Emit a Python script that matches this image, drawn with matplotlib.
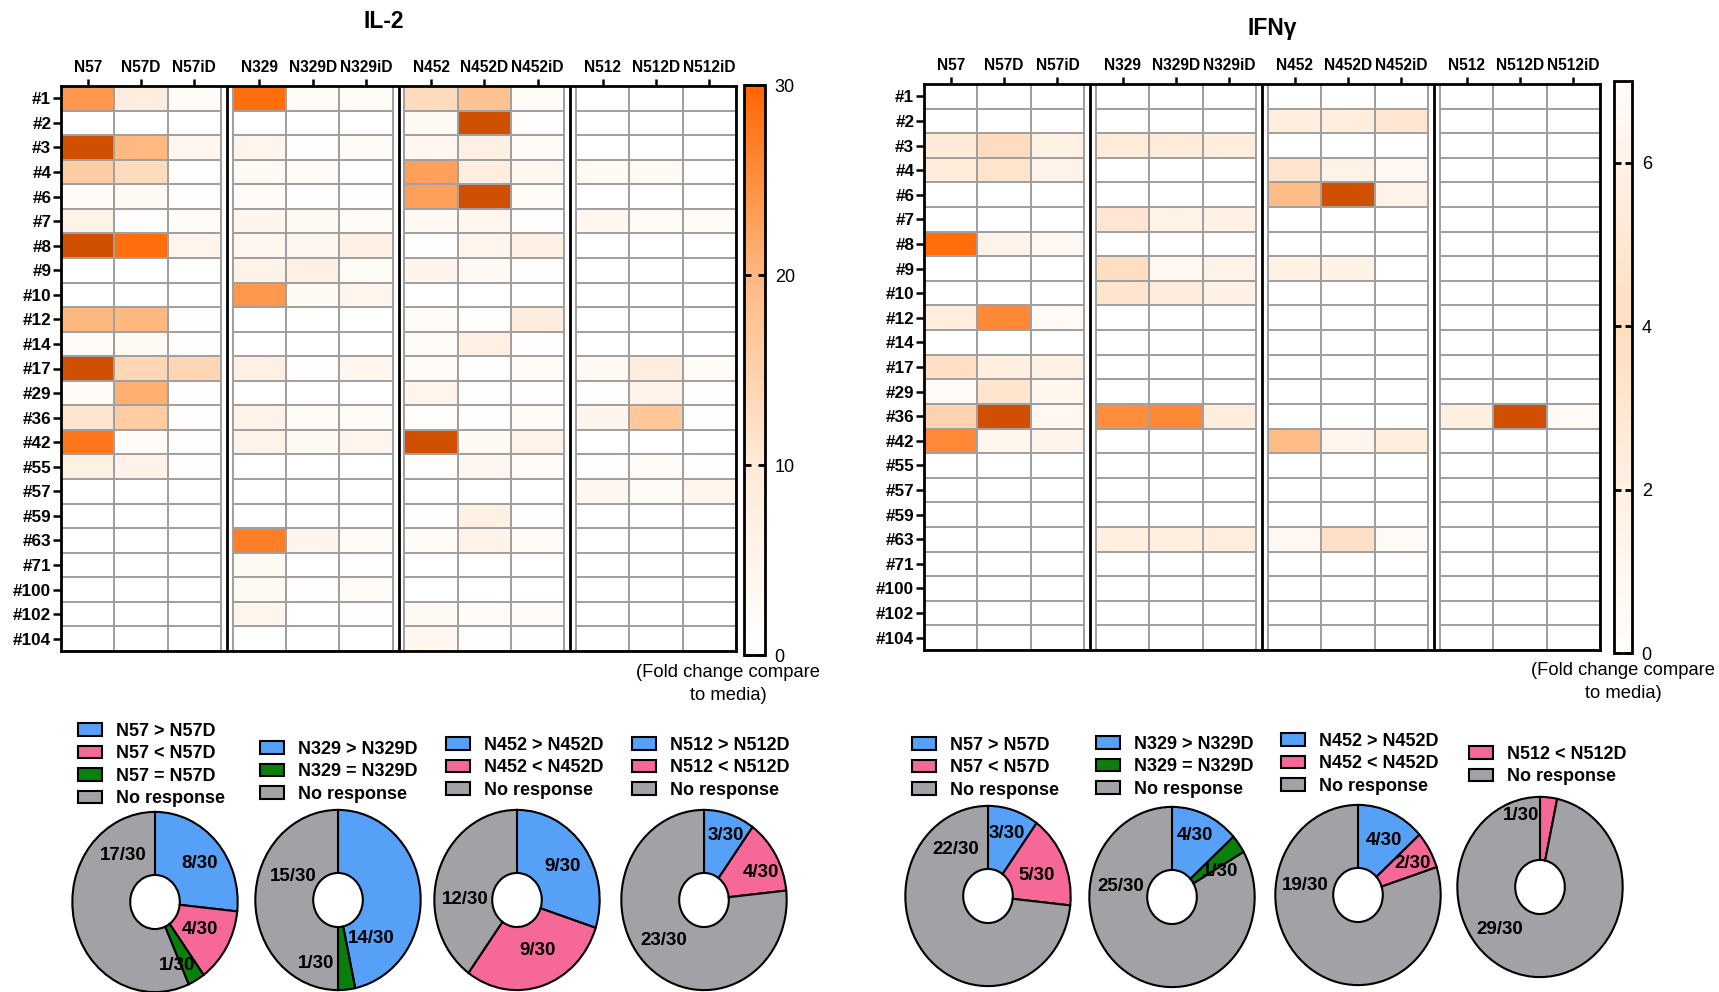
import numpy as np
import matplotlib
matplotlib.use('Agg')
import matplotlib.pyplot as plt
from matplotlib.colors import LinearSegmentedColormap, Normalize
from matplotlib.cm import ScalarMappable

plt.rcParams['font.family'] = ['Liberation Sans', 'DejaVu Sans']

# heatmap data (fold change compared to media)
rows = ['#1', '#2', '#3', '#4', '#6', '#7', '#8', '#9', '#10', '#12', '#14', '#17',
        '#29', '#36', '#42', '#55', '#57', '#59', '#63', '#71', '#100', '#102', '#104']
cols = ['N57', 'N57D', 'N57iD', 'N329', 'N329D', 'N329iD',
        'N452', 'N452D', 'N452iD', 'N512', 'N512D', 'N512iD']

il2 = [
    [24, 8, 2, 29, 2, 2, 13, 18, 2, 0, 0, 0],
    [0, 0, 0, 0, 0, 0, 3, 35, 1, 0, 0, 0],
    [35, 20, 4, 5, 1, 2, 4, 7, 2, 0, 0, 0],
    [16, 13, 1, 3, 2, 1, 23, 8, 4, 3, 3, 1],
    [2, 3, 1, 2, 1, 1, 23, 35, 2, 0, 0, 0],
    [6, 1, 2, 5, 3, 2, 3, 4, 1, 4, 2, 2],
    [35, 29, 5, 4, 4, 7, 0.5, 5, 7, 0, 0, 0],
    [0, 0, 0, 6, 7, 2, 5, 3, 1, 0, 0, 0],
    [0, 0, 0, 24, 3, 5, 0, 0, 0, 0, 0, 0],
    [20, 20, 1, 0, 0, 0, 2, 0.5, 8, 0, 0, 0],
    [2, 3, 1, 0, 0, 0, 2, 7, 1, 0, 0, 0],
    [35, 14, 14, 7, 1, 4, 2, 1, 2, 3, 8, 2],
    [2, 21, 1, 0, 0, 0, 5, 1, 0.5, 1, 6, 1],
    [11, 16, 1, 6, 2, 2, 1, 1, 2, 5, 17, 1],
    [28, 2, 1, 6, 3, 5, 35, 3, 6, 0, 0, 0],
    [7, 6, 1, 0, 0, 0, 1, 4, 2, 1, 2, 1],
    [0, 0, 0, 0, 0, 0, 0, 0, 0, 4, 2, 5],
    [0, 0, 0, 0, 0, 0, 1, 7, 1, 0, 0, 0],
    [0, 0, 0, 27, 5, 2, 2, 6, 2, 0, 0, 0],
    [0, 0, 0, 3, 0, 1, 0, 0, 0, 0, 0, 0],
    [0, 0, 0, 3, 1, 2, 0, 0, 0, 0, 0, 0],
    [0, 0, 0, 5, 0, 0.5, 3, 2, 2, 0, 0, 0],
    [0, 0, 0, 0, 0, 0, 4, 1, 1, 0, 0, 0],
]

ifng = [
    [0, 0, 0, 0, 0, 0, 0, 0, 0, 0, 0, 0],
    [0, 0, 0, 0, 0, 0, 2.0, 2.0, 2.5, 0, 0, 0],
    [2.3, 3.0, 1.6, 2.2, 2.2, 2.0, 0, 0, 0, 0, 0, 0],
    [2.2, 2.6, 1.4, 0, 0, 0, 2.6, 1.5, 0.8, 0, 0, 0],
    [0, 0, 0, 0, 0, 0, 4.5, 8, 1.3, 0, 0, 0],
    [0, 0, 0, 2.5, 1.5, 1.6, 0, 0, 0, 0, 0, 0],
    [6.8, 1.4, 0.8, 0, 0, 0, 0, 0, 0, 0, 0, 0],
    [0, 0, 0, 2.9, 0.8, 1.4, 1.6, 1.5, 0, 0, 0, 0],
    [0, 0, 0, 2.6, 2.2, 1.6, 0, 0, 0, 0, 0, 0],
    [2.0, 6.0, 0.6, 0, 0, 0, 0, 0, 0, 0, 0, 0],
    [0, 0, 0, 0, 0, 0, 0, 0, 0, 0, 0, 0],
    [2.8, 1.8, 1.6, 0, 0, 0, 0, 0, 0, 0, 0, 0],
    [0.6, 2.6, 1.0, 0, 0, 0, 0, 0, 0, 0, 0, 0],
    [3.4, 8, 0.9, 5.9, 6.0, 2.0, 0, 0, 0, 1.8, 8, 0.6],
    [6.0, 1.0, 1.2, 0, 0, 0, 4.5, 1.1, 2.0, 0, 0, 0],
    [0, 0, 0, 0, 0, 0, 0, 0, 0, 0, 0, 0],
    [0, 0, 0, 0, 0, 0, 0, 0, 0, 0, 0, 0],
    [0, 0, 0, 0, 0, 0, 0, 0, 0, 0, 0, 0],
    [0, 0, 0, 1.8, 1.8, 2.0, 0.8, 2.8, 0.6, 0, 0, 0],
    [0, 0, 0, 0, 0, 0, 0, 0, 0, 0, 0, 0],
    [0, 0, 0, 0, 0, 0, 0, 0, 0, 0, 0, 0],
    [0, 0, 0, 0, 0, 0, 0, 0, 0, 0, 0, 0],
    [0, 0, 0, 0, 0, 0, 0, 0, 0, 0, 0, 0],
]

# pie data (number of donors out of 30)
il2_pie_counts = [[8, 4, 1, 17], [14, 1, 15], [9, 9, 12], [3, 4, 23]]
il2_pie_labels = [['8/30', '4/30', '1/30', '17/30'], ['14/30', '1/30', '15/30'],
                  ['9/30', '9/30', '12/30'], ['3/30', '4/30', '23/30']]
il2_pie_cats = [['N57 > N57D', 'N57 < N57D', 'N57 = N57D', 'No response'],
                ['N329 > N329D', 'N329 = N329D', 'No response'],
                ['N452 > N452D', 'N452 < N452D', 'No response'],
                ['N512 > N512D', 'N512 < N512D', 'No response']]

ifn_pie_counts = [[3, 5, 22], [4, 1, 25], [4, 2, 24], [1, 29]]
ifn_pie_labels = [['3/30', '5/30', '22/30'], ['4/30', '1/30', '25/30'],
                  ['4/30', '2/30', '19/30'], ['1/30', '29/30']]
ifn_pie_cats = [['N57 > N57D', 'N57 < N57D', 'No response'],
                ['N329 > N329D', 'N329 = N329D', 'No response'],
                ['N452 > N452D', 'N452 < N452D', 'No response'],
                ['N512 < N512D', 'No response']]

W, H = 1719, 992
fig = plt.figure(figsize=(W / 100, H / 100), dpi=100)


def box(l, t, r, b):
    return [l / W, 1 - b / H, (r - l) / W, (b - t) / H]


cmap = LinearSegmentedColormap.from_list(
    'fold', [(0, '#FFFFFF'), (1 / 3, '#FFEAD8'), (2 / 3, '#FFB880'), (1, '#FF6600')])
cmap.set_over('#D04F00')
GAP = 0.22


def heatmap(ax, values, vmax):
    vals = np.array(values, float)
    y = np.arange(len(rows) + 1)
    for g in range(4):
        x = g * (3 + GAP) + np.arange(4)
        m = ax.pcolormesh(x, y, vals[:, 3 * g:3 * g + 3], cmap=cmap, vmin=0, vmax=vmax,
                          edgecolors='#A0A0A0', linewidth=1.2)
    for g in range(1, 4):
        ax.axvline(g * (3 + GAP) - GAP / 2, color='black', lw=2)
    ax.set_xlim(0, 12 + 3 * GAP)
    ax.set_ylim(len(rows), 0)
    ax.set_xticks([g * (3 + GAP) + j + 0.5 for g in range(4) for j in range(3)])
    ax.set_xticklabels(cols, fontweight='bold', fontsize=11.2)
    ax.xaxis.tick_top()
    ax.set_yticks(np.arange(len(rows)) + 0.5)
    ax.set_yticklabels(rows, fontweight='bold', fontsize=12.3)
    ax.tick_params(axis='x', length=5, width=1.8, pad=3)
    ax.tick_params(axis='y', length=6, width=1.8, pad=1)
    for s in ax.spines.values():
        s.set_linewidth(2)
    return m


ax1 = fig.add_axes(box(61, 86, 736, 651))
m1 = heatmap(ax1, il2, 30)
cax1 = fig.add_axes(box(744, 85, 765, 655))
cb1 = fig.colorbar(m1, cax=cax1, ticks=[0, 10, 20, 30])

ax2 = fig.add_axes(box(924, 84, 1600, 650))
heatmap(ax2, ifng, 7)
cax2 = fig.add_axes(box(1614, 81, 1632, 653))
bar_cmap = LinearSegmentedColormap.from_list(
    'ifn_bar', [(0, '#FFFDFB'), (2 / 7, '#FFF0E2'), (4 / 7, '#FFDDBF'), (6 / 7, '#FFF1E5'), (1, '#FFFDFB')])
cb2 = fig.colorbar(ScalarMappable(norm=Normalize(0, 7), cmap=bar_cmap), cax=cax2, ticks=[0, 2, 4, 6])

for cb in (cb1, cb2):
    cb.outline.set_linewidth(2)
    cb.ax.tick_params(direction='in', length=5, width=2, left=True, right=True,
                      labelsize=13, pad=7)

fig.text(384 / W, 1 - 22 / H, 'IL-2', ha='center', va='center', fontsize=16.5, fontweight='bold')
fig.text(1272 / W, 1 - 28 / H, 'IFNγ', ha='center', va='center', fontsize=16.5, fontweight='bold')
fig.text(728 / W, 1 - 664 / H, '(Fold change compare\nto media)', ha='center', va='top',
         multialignment='center', fontsize=13.2, linespacing=1.45)
fig.text(1623 / W, 1 - 662 / H, '(Fold change compare\nto media)', ha='center', va='top',
         multialignment='center', fontsize=13.2, linespacing=1.45)


def cat_color(c):
    if '>' in c:
        return '#56A0F7'
    if '<' in c:
        return '#F56897'
    if '=' in c:
        return '#0B7F0B'
    return '#A2A2A6'


RX, RY = 83.5, 91


def donut(cx, cy, counts, labels, cats, lpos, leg_xy):
    ax = fig.add_axes(box(cx - RX, cy - RY, cx + RX, cy + RY))
    wedges, _ = ax.pie(counts, colors=[cat_color(c) for c in cats], startangle=90,
                       counterclock=False, radius=1,
                       wedgeprops=dict(width=0.7, edgecolor='black', linewidth=1.5))
    ax.set_aspect('auto')
    ax.set_xlim(-1.01, 1.01)
    ax.set_ylim(-1.01, 1.01)
    for lab, (x, y) in zip(labels, lpos):
        ax.text(x, y, lab, ha='center', va='center', fontsize=13.5, fontweight='bold')
    fig.legend(wedges, cats, loc='upper left',
               bbox_to_anchor=(leg_xy[0] / W, 1 - (leg_xy[1] - 7) / H),
               frameon=False, borderpad=0, borderaxespad=0, handlelength=1.35,
               handleheight=0.68, handletextpad=0.75, labelspacing=0.3,
               prop=dict(weight='bold', size=13))


il2_centers = [(155, 902), (338, 900), (517, 900), (704, 900)]
il2_legends = [(78, 730), (260, 748), (446, 744), (632, 744)]
il2_lpos = [[(0.54, 0.43), (0.54, -0.30), (0.27, -0.71), (-0.39, 0.52)],
            [(0.40, -0.43), (-0.26, -0.70), (-0.54, 0.26)],
            [(0.55, 0.37), (0.25, -0.56), (-0.62, 0.0)],
            [(0.26, 0.72), (0.69, 0.30), (-0.49, -0.45)]]
ifn_centers = [(988, 896), (1172, 897), (1358, 895), (1540, 887)]
ifn_legends = [(912, 744), (1096, 743), (1281, 740), (1469, 753)]
ifn_lpos = [[(0.23, 0.69), (0.59, 0.23), (-0.39, 0.52)],
            [(0.28, 0.68), (0.58, 0.28), (-0.62, 0.12)],
            [(0.31, 0.60), (0.66, 0.35), (-0.64, 0.11)],
            [(-0.23, 0.79), (-0.49, -0.47)]]

for i in range(4):
    donut(*il2_centers[i], il2_pie_counts[i], il2_pie_labels[i], il2_pie_cats[i],
          il2_lpos[i], il2_legends[i])
    donut(*ifn_centers[i], ifn_pie_counts[i], ifn_pie_labels[i], ifn_pie_cats[i],
          ifn_lpos[i], ifn_legends[i])

fig.savefig('out.png', dpi=100)
